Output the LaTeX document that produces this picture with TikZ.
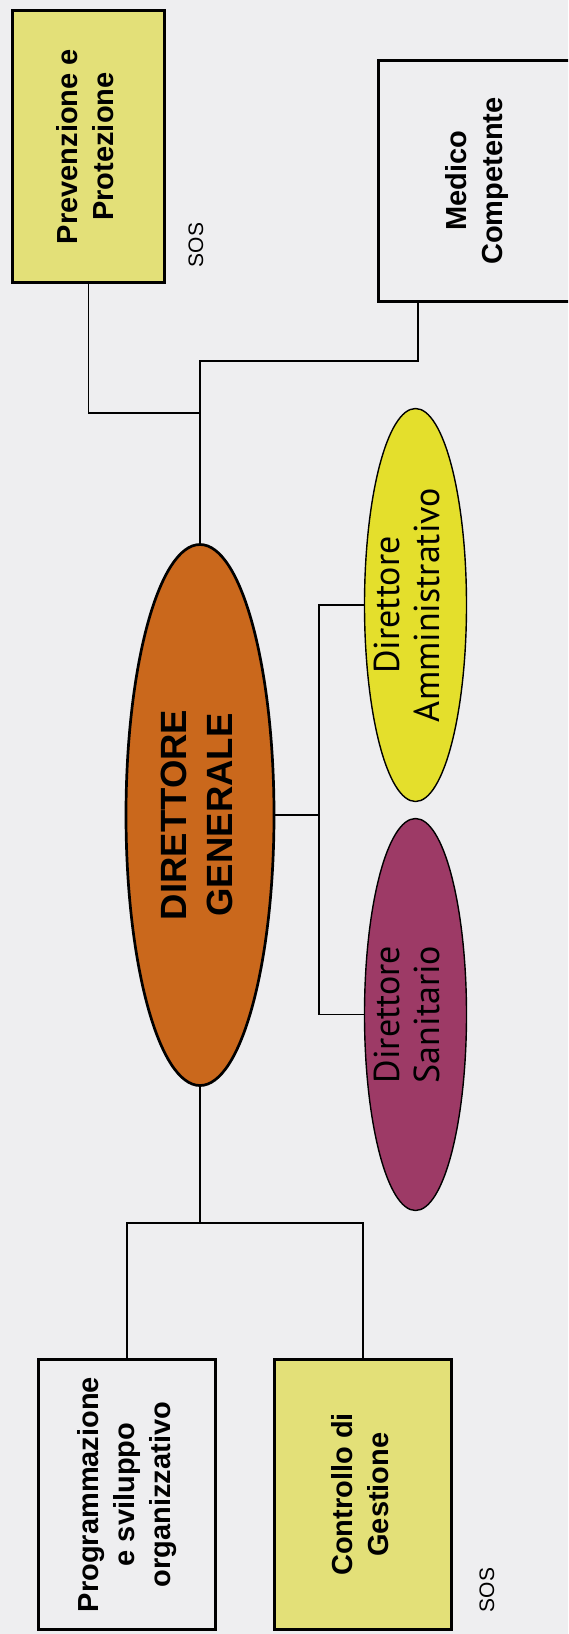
\documentclass[tikz,border=0pt]{standalone}
\usepackage{fontspec}
\setmainfont{Liberation Sans}
\newfontfamily\myr{PT Sans}
\usetikzlibrary{shapes.geometric}
\definecolor{paper}{RGB}{238,238,240}
\definecolor{boxy}{RGB}{227,224,120}
\definecolor{dgor}{RGB}{202,104,28}
\definecolor{ammy}{RGB}{228,223,44}
\definecolor{sanp}{RGB}{157,58,102}
\newcommand{\vtext}[1]{\rotatebox{90}{\begin{tabular}{@{}c@{}}#1\end{tabular}}}
\newcommand{\vtextz}[1]{\makebox[0pt]{\rotatebox{90}{\begin{tabular}{@{}c@{}}#1\end{tabular}}}}
\begin{document}
\begin{tikzpicture}[x=1pt,y=-1pt,
  box/.style={draw=black, line width=3pt, rectangle, inner sep=0pt, fill=paper,
    font=\fontsize{29}{36}\selectfont\bfseries},
  ell/.style={draw=black, ellipse, inner sep=0pt, line width=1.4pt},
  conn/.style={draw=black, line width=1.7pt},
  soslbl/.style={font=\fontsize{21}{25}\selectfont, inner sep=0pt, rotate=90}]
\fill[paper] (0,0) rectangle (568,1634);
\useasboundingbox (0,0) rectangle (568,1634);
\clip (0,0) rectangle (568,1634);

% ellipses
\node[ell, line width=2.7pt, fill=dgor, minimum width=148pt, minimum height=541pt,
  font=\fontsize{36.5}{46}\selectfont\bfseries] (dg) at (200,815)
  {\vtextz{DIRETTORE\\GENERALE}};
\node[ell, fill=ammy, minimum width=102pt, minimum height=393pt,
  font=\myr\fontsize{36}{40}\selectfont] (amm) at (415.5,605)
  {\hspace*{-8pt}\vtextz{Direttore\\Amministrativo}};
\node[ell, fill=sanp, minimum width=102pt, minimum height=392pt,
  font=\myr\fontsize{36}{40}\selectfont] (san) at (415.5,1014.5)
  {\hspace*{-8pt}\vtextz{Direttore\\Sanitario}};

% boxes
\node[box, fill=boxy, minimum width=152pt, minimum height=272pt] (prev) at (88.5,146.5)
  {\vtext{Prevenzione e\\Protezione}};
\node[box, minimum width=197pt, minimum height=241pt] (med) at (477,181)
  {\vtext{Medico\\Competente}};
\node[box, minimum width=177pt, minimum height=270pt] (prog) at (127,1494.5)
  {\vtext{Programmazione\\e sviluppo\\organizzativo}};
\node[box, fill=boxy, minimum width=177pt, minimum height=270pt] (ctrl) at (363,1494.5)
  {\vtext{Controllo di\\Gestione}};

% SOS labels
\node[soslbl] (sos1) at (196,245) {SOS};
\node[soslbl] (sos2) at (487,1590) {SOS};

% connectors
\coordinate (bus) at (319,815);
\coordinate (bbus) at (200,1223);
\draw[conn] (prev.south) |- (dg.north |- 0,413);
\draw[conn] ([xshift=41pt]med.south west) |- (dg.north |- 0,361) -- (dg.north);
\draw[conn] (dg.east) -- (bus);
\draw[conn] (amm.west) -| (bus) |- (san.west);
\draw[conn] (dg.south) -- (bbus);
\draw[conn] (prog.north) |- (bbus) -| (ctrl.north);
\end{tikzpicture}
\end{document}
